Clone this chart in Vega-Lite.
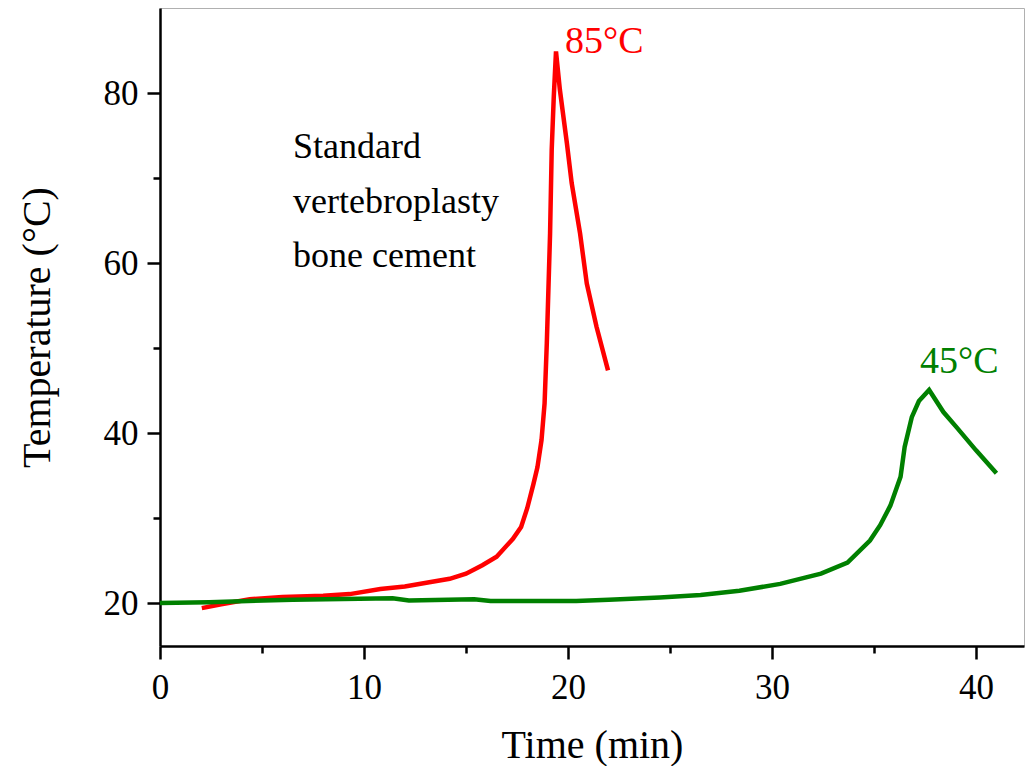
{
  "$schema": "https://vega.github.io/schema/vega-lite/v6.json",
  "width": 864,
  "height": 638,
  "autosize": {"type": "none"},
  "padding": {"left": 160, "top": 8, "right": 1, "bottom": 120},
  "background": "white",
  "config": {
    "font": "Liberation Serif",
    "view": {"stroke": "#b0b0b0", "strokeWidth": 1},
    "axis": {
      "domainColor": "black",
      "domainWidth": 2.5,
      "tickColor": "black",
      "tickWidth": 2.5,
      "grid": false,
      "labelFont": "Liberation Serif",
      "labelFontSize": 35,
      "labelColor": "black",
      "titleFont": "Liberation Serif",
      "titleFontSize": 40,
      "titleFontWeight": "normal",
      "titleColor": "black"
    }
  },
  "datasets": {
    "curves": [
      {"series": "standard", "time": 2.05, "temp": 19.45},
      {"series": "standard", "time": 3.0, "temp": 19.9},
      {"series": "standard", "time": 4.4, "temp": 20.5},
      {"series": "standard", "time": 6.0, "temp": 20.75},
      {"series": "standard", "time": 8.0, "temp": 20.9},
      {"series": "standard", "time": 9.3, "temp": 21.1},
      {"series": "standard", "time": 10.8, "temp": 21.7},
      {"series": "standard", "time": 12.0, "temp": 22.0},
      {"series": "standard", "time": 13.2, "temp": 22.5},
      {"series": "standard", "time": 14.2, "temp": 22.9},
      {"series": "standard", "time": 15.0, "temp": 23.5},
      {"series": "standard", "time": 15.8, "temp": 24.5},
      {"series": "standard", "time": 16.5, "temp": 25.5},
      {"series": "standard", "time": 17.3, "temp": 27.6},
      {"series": "standard", "time": 17.7, "temp": 29.0},
      {"series": "standard", "time": 18.0, "temp": 31.2},
      {"series": "standard", "time": 18.3, "temp": 34.0},
      {"series": "standard", "time": 18.5, "temp": 36.0},
      {"series": "standard", "time": 18.7, "temp": 39.2},
      {"series": "standard", "time": 18.85, "temp": 43.5},
      {"series": "standard", "time": 18.96, "temp": 50.6},
      {"series": "standard", "time": 19.12, "temp": 63.5},
      {"series": "standard", "time": 19.2, "temp": 73.3},
      {"series": "standard", "time": 19.3, "temp": 79.5},
      {"series": "standard", "time": 19.41, "temp": 84.9},
      {"series": "standard", "time": 19.6, "temp": 80.4},
      {"series": "standard", "time": 19.95, "temp": 74.0},
      {"series": "standard", "time": 20.18, "temp": 69.4},
      {"series": "standard", "time": 20.59, "temp": 63.5},
      {"series": "standard", "time": 20.92, "temp": 57.6},
      {"series": "standard", "time": 21.4, "temp": 52.5},
      {"series": "standard", "time": 21.96, "temp": 47.4},
      {"series": "new", "time": 0.0, "temp": 20.05},
      {"series": "new", "time": 2.4, "temp": 20.15},
      {"series": "new", "time": 6.5, "temp": 20.45},
      {"series": "new", "time": 11.4, "temp": 20.6},
      {"series": "new", "time": 12.2, "temp": 20.35},
      {"series": "new", "time": 15.4, "temp": 20.5},
      {"series": "new", "time": 16.2, "temp": 20.3},
      {"series": "new", "time": 20.4, "temp": 20.3},
      {"series": "new", "time": 22.0, "temp": 20.45},
      {"series": "new", "time": 24.5, "temp": 20.7},
      {"series": "new", "time": 26.5, "temp": 21.0},
      {"series": "new", "time": 28.4, "temp": 21.5},
      {"series": "new", "time": 30.4, "temp": 22.3},
      {"series": "new", "time": 32.4, "temp": 23.5},
      {"series": "new", "time": 33.7, "temp": 24.8},
      {"series": "new", "time": 34.8, "temp": 27.4},
      {"series": "new", "time": 35.3, "temp": 29.2},
      {"series": "new", "time": 35.8, "temp": 31.5},
      {"series": "new", "time": 36.3, "temp": 34.9},
      {"series": "new", "time": 36.5, "temp": 38.4},
      {"series": "new", "time": 36.85, "temp": 41.9},
      {"series": "new", "time": 37.2, "temp": 43.8},
      {"series": "new", "time": 37.7, "temp": 45.1},
      {"series": "new", "time": 38.4, "temp": 42.5},
      {"series": "new", "time": 39.05, "temp": 40.7},
      {"series": "new", "time": 40.0, "temp": 38.0},
      {"series": "new", "time": 41.0, "temp": 35.3}
    ],
    "peaks": [
      {"series": "standard", "time": 19.85, "temp": 84.7, "label": "85°C"},
      {"series": "new", "time": 37.25, "temp": 47.06, "label": "45°C"}
    ],
    "note": [
      {"time": 6.52, "temp": 72.35, "label": "Standard"},
      {"time": 6.52, "temp": 65.88, "label": "vertebroplasty"},
      {"time": 6.52, "temp": 59.53, "label": "bone cement"}
    ]
  },
  "layer": [
    {
      "data": {"name": "curves"},
      "mark": {"type": "line", "strokeWidth": 4.5, "interpolate": "linear"},
      "encoding": {
        "x": {
          "field": "time", "type": "quantitative",
          "scale": {"domain": [0, 42.35], "nice": false, "zero": false},
          "axis": {
            "title": "Time (min)",
            "values": [0, 5, 10, 15, 20, 25, 30, 35, 40],
            "labelExpr": "datum.value % 10 === 0 ? datum.label : ''",
            "tickSize": {"condition": {"test": "datum.value % 10 === 0", "value": 13}, "value": 7},
            "labelPadding": 11,
            "titlePadding": 20,
            "labelFlush": false
          }
        },
        "y": {
          "field": "temp", "type": "quantitative",
          "scale": {"domain": [15, 90], "nice": false, "zero": false},
          "axis": {
            "title": "Temperature (°C)",
            "values": [20, 30, 40, 50, 60, 70, 80],
            "labelExpr": "datum.value % 20 === 0 ? datum.label : ''",
            "tickSize": {"condition": {"test": "datum.value % 20 === 0", "value": 13}, "value": 7},
            "labelPadding": 9,
            "titlePadding": 46
          }
        },
        "color": {
          "field": "series", "type": "nominal",
          "scale": {"domain": ["standard", "new"], "range": ["#ff0000", "#008000"]},
          "legend": null
        },
        "detail": {"field": "series"}
      }
    },
    {
      "mark": {"type": "rule", "color": "black", "strokeWidth": 2.5},
      "encoding": {"y": {"datum": 90}}
    },
    {
      "data": {"name": "peaks"},
      "mark": {"type": "text", "align": "left", "baseline": "alphabetic", "fontSize": 38, "font": "Liberation Serif"},
      "encoding": {
        "x": {"field": "time", "type": "quantitative"},
        "y": {"field": "temp", "type": "quantitative"},
        "text": {"field": "label"},
        "color": {"field": "series", "type": "nominal", "legend": null}
      }
    },
    {
      "data": {"name": "note"},
      "mark": {"type": "text", "align": "left", "baseline": "alphabetic", "fontSize": 36, "font": "Liberation Serif", "color": "black"},
      "encoding": {
        "x": {"field": "time", "type": "quantitative"},
        "y": {"field": "temp", "type": "quantitative"},
        "text": {"field": "label"}
      }
    }
  ]
}
